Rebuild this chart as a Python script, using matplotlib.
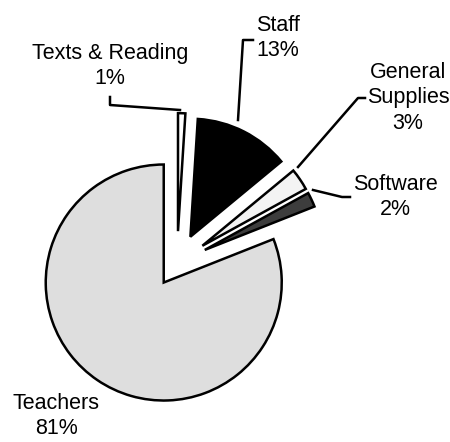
import matplotlib.pyplot as plt

plt.rcParams['font.family'] = ['Liberation Sans', 'DejaVu Sans']

# slices, clockwise from 12 o'clock
labels = ["Texts & Reading", "Staff", "General\nSupplies", "Software", "Teachers"]
shares = [1, 13, 3, 2, 81]
colors = ["#ffffff", "#000000", "#f3f3f3", "#3d3d3d", "#dedede"]

W, H = 450, 442
radius = 118
# explode as fraction of radius (pie wants absolute units)
explode_frac = [0.27, 0.25, 0.26, 0.26, 0.2]


def py(y):
    # image pixel row -> data y
    return H - y


fig = plt.figure(figsize=(4.5, 4.42), dpi=100)
ax = fig.add_axes([0, 0, 1, 1])

wedges, _ = ax.pie(shares, explode=[f * radius for f in explode_frac],
                   colors=colors, startangle=90, counterclock=False,
                   center=(177, py(263)), radius=radius,
                   wedgeprops=dict(edgecolor="black", linewidth=1.8))
ax.set_xlim(0, W)
ax.set_ylim(0, H)
ax.set_aspect("equal")
ax.axis("off")

# label text blocks (centre in pixel coords)
text_pos = {
    "Texts & Reading": (110, 66),
    "Staff": (278, 38),
    "General\nSupplies": (408, 98),
    "Software": (395, 197),
    "Teachers": (56, 416),
}
for lab, val in zip(labels, shares):
    x, y = text_pos[lab]
    ax.text(x, py(y), f"{lab}\n{val}%", ha="center", va="center",
            fontsize=15.5, linespacing=1.3)

# leader lines
leaders = [
    [(180, 110), (110, 105), (110, 97)],
    [(238, 120), (243, 40), (253, 40)],
    [(298, 167), (358, 98), (365, 98)],
    [(313, 190), (342, 197), (350, 197)],
]
for pts in leaders:
    xs = [p[0] for p in pts]
    ys = [py(p[1]) for p in pts]
    ax.plot(xs, ys, color="black", linewidth=1.8)

fig.savefig("out.png", dpi=100)
